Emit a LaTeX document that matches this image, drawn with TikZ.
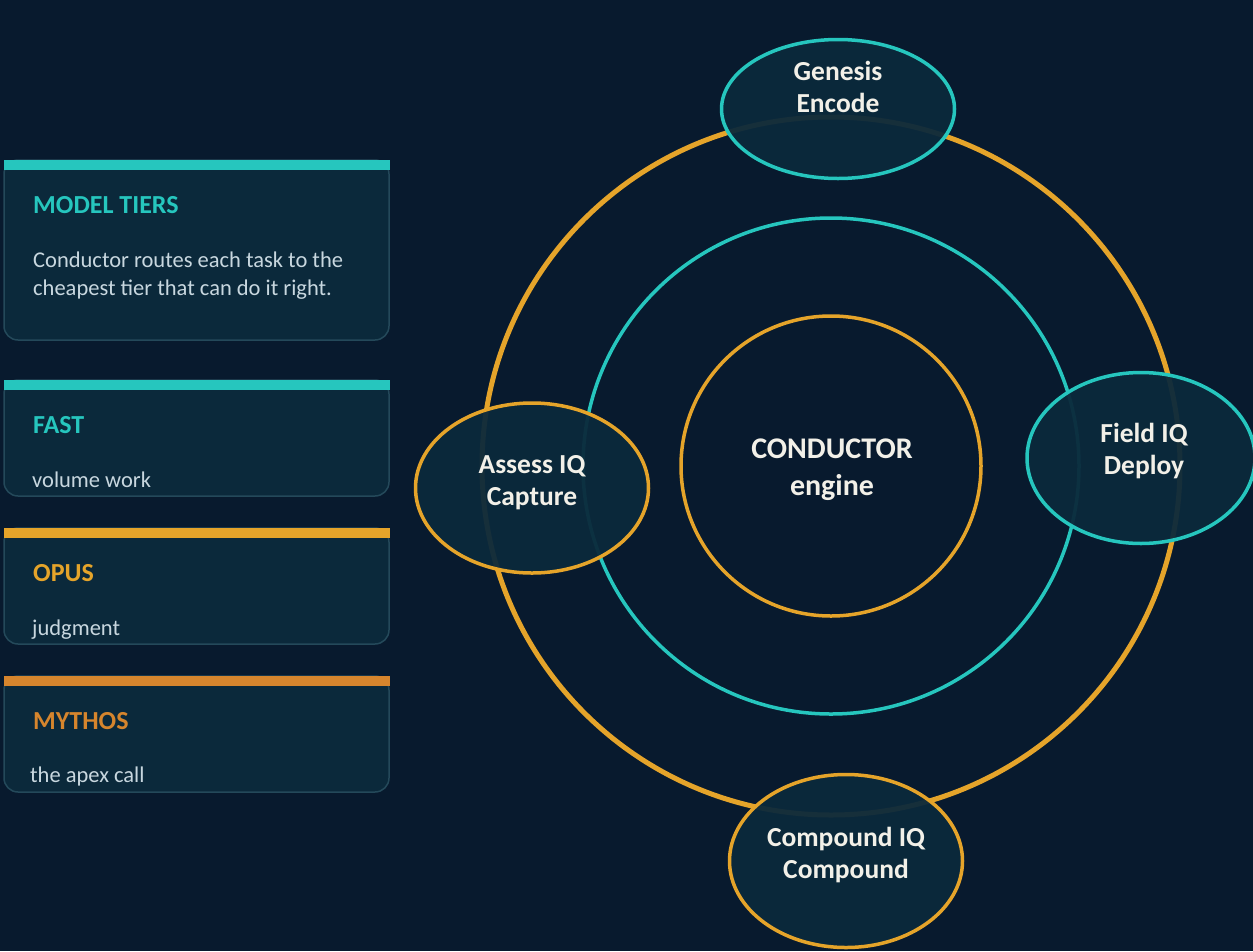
\documentclass[tikz,border=0pt]{standalone}
\usepackage{fontspec}
\setmainfont{Carlito}
\usepackage{xcolor}
\usetikzlibrary{shapes.geometric}
\definecolor{bgnavy}{HTML}{081A2E}
\definecolor{panelfill}{HTML}{0B293B}
\definecolor{panelline}{HTML}{24495A}
\definecolor{tealc}{HTML}{26C6BE}
\definecolor{goldc}{HTML}{E5A42A}
\definecolor{amberc}{HTML}{D6852D}
\definecolor{bodytxt}{HTML}{C8D7DF}
\definecolor{hubtxt}{HTML}{F2F0E8}

\tikzset{
  panel/.style={draw=panelline,line width=1.5pt,fill=panelfill,rounded corners=14pt},
  tiertitle/.style={anchor=base west,inner sep=0pt,font=\fontsize{26}{30}\selectfont\bfseries},
  tierbody/.style={anchor=base west,inner sep=0pt,text=bodytxt,font=\fontsize{22.5}{28}\selectfont},
  hub/.style={ellipse,draw=#1,line width=3.5pt,fill=panelfill,fill opacity=0.95,inner sep=0pt},
  hubtext/.style={align=center,text=hubtxt,font=\fontsize{27.5}{32}\selectfont\bfseries}
}

\begin{document}
\begin{tikzpicture}[x=1pt,y=-1pt]
        %%% BACKGROUND %%%
        \fill[bgnavy] (0,0) rectangle (1253,951);
        \useasboundingbox (0,0) rectangle (1253,951);

        %%% RINGS %%%
        \coordinate (o) at (831,466);
        \draw[goldc,line width=5pt] (o) circle (349pt);
        \draw[tealc,line width=3.5pt] (o) circle (248pt);
        \draw[goldc,line width=3.5pt] (o) circle (150pt);
        \node[hubtext,font=\fontsize{30}{37}\selectfont\bfseries] (core) at (832,470) {CONDUCTOR\\engine};

        %%% STAGES ON THE RING %%%
        \node[hub=tealc,minimum width=233pt,minimum height=139pt] (genesis) at (838,109) {};
        \node[hubtext] (genesis-t) at (838,87) {Genesis\\Encode};
        \node[hub=goldc,minimum width=233pt,minimum height=170pt] (assess) at (532,488) {};
        \node[hubtext] (assess-t) at (532,483) {Assess IQ\\Capture};
        \node[hub=tealc,minimum width=228pt,minimum height=171pt] (field) at (1141,458) {};
        \node[hubtext] (field-t) at (1144,451) {Field IQ\\Deploy};
        \node[hub=goldc,minimum width=233pt,minimum height=173pt] (compound) at (846,861) {};
        \node[hubtext] (compound-t) at (846,855) {Compound IQ\\Compound};

        %%% TIER PANELS %%%
        \draw[panel] (4,160) rectangle (389,340);
        \fill[tealc] (4,160) rectangle (390,170);
        \node[tiertitle,text=tealc] (tiers) at (33,213) {MODEL TIERS};
        \node[tierbody] (tiers-l1) at (33,267) {Conductor routes each task to the};
        \node[tierbody] (tiers-l2) at (33,295) {cheapest tier that can do it right.};

        \draw[panel] (4,380) rectangle (389,496);
        \fill[tealc] (4,380) rectangle (390,390);
        \node[tiertitle,text=tealc] (fast) at (33,433) {FAST};
        \node[tierbody] (fast-b) at (32,487) {volume work};

        \draw[panel] (4,528) rectangle (389,644);
        \fill[goldc] (4,528) rectangle (390,538);
        \node[tiertitle,text=goldc] (opus) at (33,581) {OPUS};
        \node[tierbody] (opus-b) at (32,635) {judgment};

        \draw[panel] (4,676) rectangle (389,792);
        \fill[amberc] (4,676) rectangle (390,686);
        \node[tiertitle,text=amberc] (mythos) at (33,729) {MYTHOS};
        \node[tierbody] (mythos-b) at (30,782) {the apex call};
\end{tikzpicture}
\end{document}
